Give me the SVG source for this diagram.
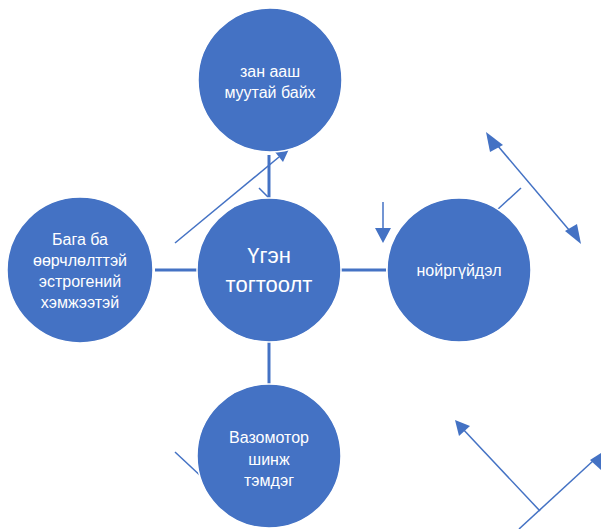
<svg xmlns="http://www.w3.org/2000/svg" width="601" height="529" viewBox="0 0 601 529">
<style>
.n{fill:#4472C4;stroke:#ffffff;stroke-width:1.5}
.t{fill:#ffffff;font-family:"Liberation Sans",Arial,sans-serif;font-size:16px;text-anchor:middle}
.tb{font-size:22px}
.c{stroke:#4472C4;stroke-width:3;fill:none}
.l{stroke:#4472C4;stroke-width:1.5;fill:none}
.h{fill:#4472C4}
</style>
<rect width="601" height="529" fill="#ffffff"/>
<g id="connectors">
<line class="c" x1="155" y1="270" x2="197" y2="270"/>
<line class="c" x1="341" y1="270" x2="386" y2="270"/>
<line class="c" x1="269" y1="342" x2="269" y2="385"/>
<line class="c" x1="269" y1="155" x2="269" y2="198"/>
<line class="l" x1="259" y1="188" x2="269" y2="198"/>
<line class="l" x1="175" y1="243" x2="279" y2="157"/>
<polygon class="h" points="275,152 289,149 283,162"/>
<line class="l" x1="383" y1="202" x2="383" y2="229"/>
<polygon class="h" points="375,228 391,228 383,243"/>
<line class="l" x1="497" y1="210" x2="521" y2="188"/>
<line class="l" x1="492" y1="139" x2="575" y2="237"/>
<polygon class="h" points="486,132 503,145 490,152"/>
<polygon class="h" points="581,244 565,231 577,224"/>
<line class="l" x1="540" y1="511" x2="461" y2="427"/>
<polygon class="h" points="455,420 470,426 459,436"/>
<line class="l" x1="519" y1="529" x2="594" y2="460"/>
<polygon class="h" points="601,453 601,470 590,460"/>
<line class="l" x1="175" y1="452" x2="205" y2="480"/>
</g>
<g id="n-top">
<circle class="n" cx="270" cy="80" r="72"/>
<text class="t" x="270" y="77">зан ааш</text>
<text class="t" x="270" y="98">муутай байх</text>
</g>
<g id="n-left">
<circle class="n" cx="80" cy="270" r="73"/>
<text class="t" x="80" y="245">Бага ба</text>
<text class="t" x="80" y="266">өөрчлөлттэй</text>
<text class="t" x="80" y="287">эстрогений</text>
<text class="t" x="80" y="308">хэмжээтэй</text>
</g>
<g id="n-center">
<circle class="n" cx="269" cy="270" r="72"/>
<text class="t tb" x="269" y="263">Үгэн</text>
<text class="t tb" x="269" y="292">тогтоолт</text>
</g>
<g id="n-right">
<circle class="n" cx="459" cy="270" r="72"/>
<text class="t" x="459" y="276">нойргүйдэл</text>
</g>
<g id="n-bottom">
<circle class="n" cx="269" cy="456" r="72"/>
<text class="t" x="269" y="443">Вазомотор</text>
<text class="t" x="269" y="465">шинж</text>
<text class="t" x="269" y="486">тэмдэг</text>
</g>
</svg>
